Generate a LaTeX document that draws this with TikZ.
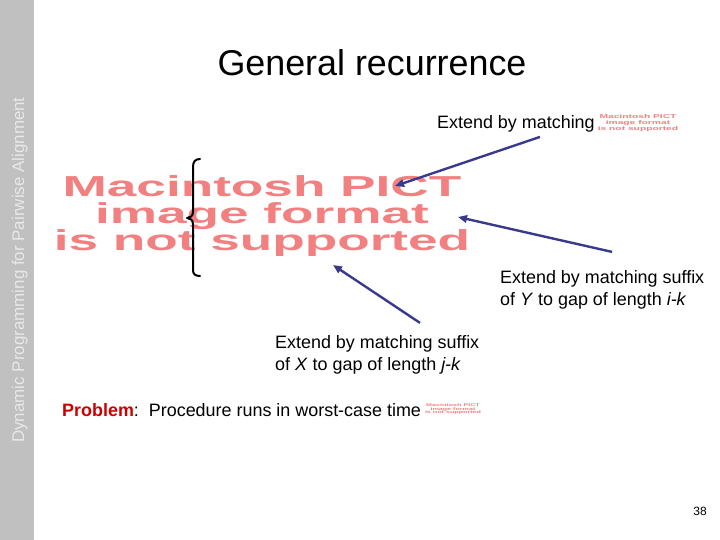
\documentclass[tikz,border=0pt]{standalone}
\usepackage{fontspec}
\setmainfont{Liberation Sans}
\usepackage{graphicx}
\usetikzlibrary{arrows.meta}
\definecolor{sidegray}{RGB}{192,192,192}
\definecolor{sidetext}{RGB}{232,232,232}
\definecolor{pictred}{RGB}{242,128,128}
\definecolor{arrowblue}{RGB}{58,58,140}
\definecolor{probred}{RGB}{204,0,0}
\newcommand{\pictlines}[1]{\scalebox{#1}[1]{Macintosh PICT}\\\scalebox{#1}[1]{image format}\\\scalebox{#1}[1]{is not supported}}
\tikzset{
  lbl/.style={font=\fontsize{18}{22}\selectfont, inner sep=0pt, align=left},
  pict/.style={text=pictred, inner sep=0pt, align=center},
  arr/.style={draw=arrowblue, line width=2.4bp, -{Triangle[length=9bp,width=7.5bp]}},
}
\begin{document}
\begin{tikzpicture}[x=1bp,y=-1bp]
\useasboundingbox (0,0) rectangle (720,540);
\fill[white] (0,0) rectangle (720,540);
\fill[sidegray] (0,0) rectangle (34,540);
\node[rotate=90, anchor=base, text=sidetext, font=\fontsize{17}{20}\selectfont, inner sep=0pt] (side) at (24,270) {Dynamic Programming for Pairwise Alignment};
\node[anchor=base, font=\fontsize{36}{40}\selectfont, inner sep=0pt] (title) at (372,76) {General recurrence};
% big placeholder image
\node[pict, font=\fontsize{29}{27.5}\selectfont\bfseries] (img) at (262,216) {\pictlines{1.84}};
% brace
\draw[line width=2bp, line cap=round, line join=round] (200,159) .. controls (195,159) and (193,162) .. (193,167) -- (193,212) .. controls (193,216) and (190,218) .. (187,218) .. controls (190,218) and (193,220) .. (193,224) -- (193,270) .. controls (193,274) and (195,276) .. (200,276);
% labels
\node[lbl, anchor=base west] (m1) at (437,129) {Extend by matching};
\node[pict, font=\fontsize{5.6}{5.6}\selectfont\bfseries] (img1) at (638,123) {\pictlines{1.84}};
\node[lbl, anchor=base west] (m2) at (500,305) {Extend by matching suffix\\of \textit{Y} to gap of length \textit{i-k}};
\node[lbl, anchor=base west] (m3) at (275,370) {Extend by matching suffix\\of \textit{X} to gap of length \textit{j-k}};
\node[lbl, anchor=base west] (prob) at (62,416) {\textcolor{probred}{\textbf{Problem}}:\ \ Procedure runs in worst-case time};
\node[pict, font=\fontsize{3.9}{3.9}\selectfont\bfseries] (img2) at (453,409) {\pictlines{1.84}};
\node[font=\fontsize{12}{14}\selectfont, inner sep=0pt] (page) at (700,511) {38};
% arrow tips
\coordinate (t1) at (395,186);
\coordinate (t2) at (458,217);
\coordinate (t3) at (333,265);
\draw[arr] ([shift={(24,4)}]m1.south) -- (t1);
\draw[arr] ([shift={(112,-18)}]m2.north west) -- (t2);
\draw[arr] ([shift={(145,-12)}]m3.north west) -- (t3);
\end{tikzpicture}
\end{document}
